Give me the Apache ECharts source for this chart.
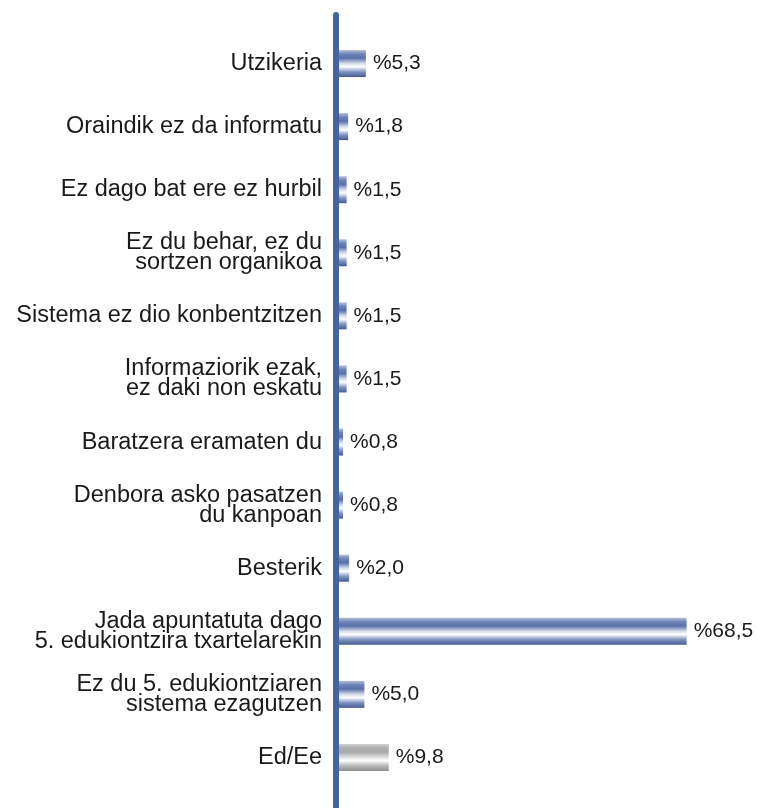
<!DOCTYPE html>
<html>
<head>
<meta charset="utf-8">
<script src="https://cdn.jsdelivr.net/npm/echarts@6/dist/echarts.min.js"></script>
<style>html,body{margin:0;padding:0;background:#fff}#c{width:757px;height:808px}</style>
</head>
<body>
<div id="c"></div>
<script>
var categories = [
  'Utzikeria',
  'Oraindik ez da informatu',
  'Ez dago bat ere ez hurbil',
  'Ez du behar, ez du\nsortzen organikoa',
  'Sistema ez dio konbentzitzen',
  'Informaziorik ezak,\nez daki non eskatu',
  'Baratzera eramaten du',
  'Denbora asko pasatzen\ndu kanpoan',
  'Besterik',
  'Jada apuntatuta dago\n5. edukiontzira txartelarekin',
  'Ez du 5. edukiontziaren\nsistema ezagutzen',
  'Ed/Ee'
];
var values = [5.3, 1.8, 1.5, 1.5, 1.5, 1.5, 0.8, 0.8, 2.0, 68.5, 5.0, 9.8];
var grayIndex = [11];

var blueGrad = new echarts.graphic.LinearGradient(0, 0, 0, 1, [
  {offset: 0, color: '#b3bfd9'},
  {offset: 0.15, color: '#6f84b6'},
  {offset: 0.3, color: '#5970a8'},
  {offset: 0.5, color: '#d5dcea'},
  {offset: 0.62, color: '#ffffff'},
  {offset: 0.8, color: '#8596c0'},
  {offset: 1, color: '#425a94'}
]);
var grayGrad = new echarts.graphic.LinearGradient(0, 0, 0, 1, [
  {offset: 0, color: '#d0d0d0'},
  {offset: 0.15, color: '#b0b0b0'},
  {offset: 0.3, color: '#a8a8a8'},
  {offset: 0.5, color: '#e0e0e0'},
  {offset: 0.62, color: '#ffffff'},
  {offset: 0.8, color: '#bababa'},
  {offset: 1, color: '#8e8e8e'}
]);

var seriesData = values.map(function (v, i) {
  return {value: v, itemStyle: {color: grayIndex.indexOf(i) >= 0 ? grayGrad : blueGrad}};
});

var chart = echarts.init(document.getElementById('c'));
chart.setOption({
  backgroundColor: '#fff',
  animation: false,
  grid: {left: 339, right: 12, top: 32, bottom: 19, containLabel: false},
  xAxis: {
    type: 'value', min: 0, max: 80, show: false
  },
  yAxis: {
    type: 'category', data: categories, inverse: true,
    axisLine: {show: false}, axisTick: {show: false},
    axisLabel: {
      margin: 17, fontSize: 23.5, lineHeight: 20, color: '#1a1a1a',
      fontFamily: '"Liberation Sans", Arial, sans-serif', align: 'right'
    }
  },
  series: [{
    type: 'bar',
    data: seriesData,
    barWidth: 27,
    label: {
      show: true, position: 'right', distance: 7,
      fontSize: 21, color: '#1a1a1a', fontFamily: '"Liberation Sans", Arial, sans-serif',
      formatter: function (p) { return '%' + p.value.toFixed(1).replace('.', ','); }
    }
  }],
  graphic: [{
    type: 'line', z: 100,
    shape: {x1: 336, y1: 15, x2: 336, y2: 812},
    style: {stroke: '#4565a0', lineWidth: 6, lineCap: 'round'}
  }]
});
</script>
</body>
</html>
